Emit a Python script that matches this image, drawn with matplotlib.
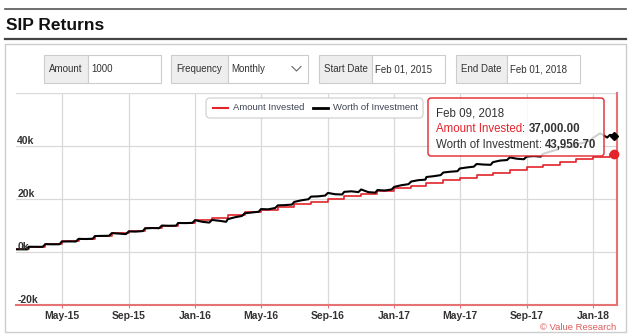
import matplotlib
matplotlib.use("Agg")
import matplotlib.pyplot as plt
import matplotlib.dates as mdates
import matplotlib.transforms as mtransforms
from matplotlib.patches import Rectangle, FancyBboxPatch
from matplotlib.lines import Line2D
import pandas as pd

plt.rcParams['font.family'] = ['Liberation Sans', 'DejaVu Sans']

W, H = 632, 336

# monthly SIP installments of 1000
install_dates = pd.date_range('2015-02-01', '2018-02-01', freq='MS')
invested = [1000, 2000, 3000, 4000, 5000, 6000, 7000, 8000, 9000, 10000,
            11000, 12000, 13000, 14000, 15000, 16000, 17000, 18000, 19000,
            20000, 21000, 22000, 23000, 24000, 25000, 26000, 27000, 28000,
            29000, 30000, 31000, 32000, 33000, 34000, 35000, 36000, 37000]
end_date = pd.Timestamp('2018-02-09')

# worth of investment, read at day 1 / 14 / 27 of every month
sample_days = [1, 14, 27]
worth = [
    1000, 1010, 985,        # Feb-15
    1985, 1960, 1950,
    2950, 2900, 2930,
    3930, 3990, 3960,       # May-15
    4960, 4900, 5010,
    6010, 6080, 6120,
    7120, 6950, 6750,
    7750, 7700, 7900,       # Sep-15
    8900, 9050, 8980,
    9980, 9900, 9950,
    10950, 10900, 11000,
    12000, 11400, 11100,    # Jan-16
    12100, 11800, 11400,
    12400, 13100, 13600,
    14600, 14900, 15200,
    16200, 16100, 16600,    # May-16
    17600, 17700, 17900,
    18900, 19500, 19900,
    20900, 21000, 21300,
    22300, 21800, 21700,    # Sep-16
    22700, 22900, 22600,
    23600, 22600, 22400,
    23400, 23200, 23600,
    24600, 25200, 25600,    # Jan-17
    26600, 27100, 27300,
    28300, 28600, 29000,
    30000, 30300, 30500,
    31500, 31900, 32200,    # May-17
    33200, 33000, 32900,
    33900, 34500, 34700,
    35700, 35200, 35000,
    36000, 36200, 36000,    # Sep-17
    37000, 37900, 38600,
    39600, 39500, 39700,
    40700, 41200, 42100,
    43100, 44800, 43200,    # Jan-18
    44200, 43956.70,        # Feb-18
]
worth_dates = [d + pd.Timedelta(days=k - 1) for d in install_dates[:-1] for k in sample_days]
worth_dates += [install_dates[-1], end_date]

ytick_vals = [-20000, 0, 20000, 40000, 60000]
ytick_labels = ['-20k', '0k', '20k', '40k']

RED = '#e3242b'
AXRED = '#e57373'
TXT = '#333333'

fig = plt.figure(figsize=(W / 100, H / 100), dpi=100)
# pixel coordinates, y pointing down
T = mtransforms.Affine2D().scale(1 / W, -1 / H).translate(0, 1) + fig.transFigure


def hline(x0, x1, y, **kw):
    fig.add_artist(Line2D([x0, x1], [y, y], transform=T, **kw))


def box(x0, y0, x1, y1, **kw):
    fig.add_artist(Rectangle((x0, y0), x1 - x0, y1 - y0, transform=T, **kw))


# header
hline(5, 626, 9, color='#555555', lw=1.2)
fig.text(6, 25, 'SIP Returns', transform=T, fontsize=12.5, fontweight='bold',
         va='center', ha='left', color='#111111')
hline(5, 626, 38.5, color='#444444', lw=1.6)
box(5, 44, 626, 332, facecolor='none', edgecolor='#cccccc', lw=1)

# input fields
fields = [(44, 88, 161, 'Amount', '1000'),
          (171, 228, 308, 'Frequency', 'Monthly'),
          (319, 372, 445, 'Start Date', 'Feb 01, 2015'),
          (456, 507, 580, 'End Date', 'Feb 01, 2018')]
for x0, xm, x1, lab, val in fields:
    box(x0, 55, xm, 82.5, facecolor='#eeeeee', edgecolor='#cccccc', lw=0.8)
    box(xm, 55, x1, 82.5, facecolor='white', edgecolor='#cccccc', lw=0.8)
    fig.text((x0 + xm) / 2, 69, lab, transform=T, fontsize=7, color=TXT,
             ha='center', va='center')
    fig.text(xm + 3, 69, val, transform=T, fontsize=7, color=TXT,
             ha='left', va='center')
fig.add_artist(Line2D([292, 296.5, 301], [66.5, 71, 66.5], transform=T,
                      color='#666666', lw=0.8))

# chart
ax = fig.add_axes([16 / W, 1 - 305 / H, 601 / W, 212 / H])
ax.step(list(install_dates) + [end_date], invested + [invested[-1]],
        where='post', color=RED, lw=1.2, zorder=3)
ax.plot(worth_dates, worth, color='black', lw=1.5, zorder=4)
ax.plot(end_date, worth[-1], marker='D', color='black', ms=4, zorder=6, clip_on=False)
ax.plot(end_date, invested[-1], marker='o', color=RED, ms=6, zorder=6, clip_on=False)

ax.set_xlim(pd.Timestamp('2015-02-06'), pd.Timestamp('2018-02-14'))
ax.set_ylim(-20000, 60000)
ax.set_yticks(ytick_vals)
ax.xaxis.set_major_locator(mdates.MonthLocator(bymonth=[1, 5, 9]))
ax.xaxis.set_major_formatter(mdates.DateFormatter('%b-%y'))
ax.grid(True, color='#d9d9d9', lw=0.9)
ax.set_axisbelow(True)
ax.tick_params(axis='y', length=0, labelleft=False)
ax.tick_params(axis='x', length=2.5, width=0.8, color=AXRED, pad=2,
               labelsize=7.5, labelcolor=TXT)
for lab in ax.get_xticklabels():
    lab.set_fontweight('bold')
for side in ['left', 'top']:
    ax.spines[side].set_visible(False)
for side in ['bottom', 'right']:
    ax.spines[side].set_color(AXRED)
    ax.spines[side].set_linewidth(1.5)

ylab_tr = mtransforms.offset_copy(
    mtransforms.blended_transform_factory(ax.transAxes, ax.transData),
    fig=fig, x=0, y=1.5, units='points')
for v, lab in zip(ytick_vals, ytick_labels):
    ax.text(0.002, v, lab, transform=ylab_tr, fontsize=7.5, fontweight='bold',
            color=TXT, ha='left', va='baseline', zorder=5)

# legend
fig.add_artist(FancyBboxPatch((206, 98), 217, 20, boxstyle='round,pad=0,rounding_size=4',
                              transform=T, facecolor='white', edgecolor='#cccccc', lw=0.8))
fig.add_artist(Line2D([213, 228], [108, 108], transform=T, color=RED, lw=1.5))
fig.text(233, 108, 'Amount Invested', transform=T, fontsize=6.8, color='#3d4452',
         va='center', ha='left')
fig.add_artist(Line2D([313, 328], [108, 108], transform=T, color='black', lw=2))
fig.text(333, 108, 'Worth of Investment', transform=T, fontsize=6.8, color='#3d4452',
         va='center', ha='left')

# tooltip
fig.add_artist(FancyBboxPatch((428, 98), 176, 58, boxstyle='round,pad=0,rounding_size=3',
                              transform=T, facecolor='white', alpha=0.82,
                              edgecolor='none', zorder=5))
fig.add_artist(FancyBboxPatch((428, 98), 176, 58, boxstyle='round,pad=0,rounding_size=3',
                              transform=T, facecolor='none', edgecolor=RED, lw=1, zorder=6))
renderer = fig.canvas.get_renderer()


def pieces(x, y, parts):
    for s, col, wt in parts:
        t = fig.text(x, y, s, transform=T, fontsize=8.3, color=col, fontweight=wt,
                     ha='left', va='center', zorder=7)
        x += t.get_window_extent(renderer).width


pieces(436, 113.5, [('Feb 09, 2018', TXT, 'normal')])
pieces(436, 129, [('Amount Invested', RED, 'normal'), (': ', TXT, 'normal'),
                  ('37,000.00', TXT, 'bold')])
pieces(436, 144.5, [('Worth of Investment', TXT, 'normal'), (': ', TXT, 'normal'),
                    ('43,956.70', TXT, 'bold')])

fig.text(616, 327, '\u00a9 Value Research', transform=T, fontsize=6.8, color='#e05a5a',
         ha='right', va='center')

fig.savefig('out.png', dpi=100)
